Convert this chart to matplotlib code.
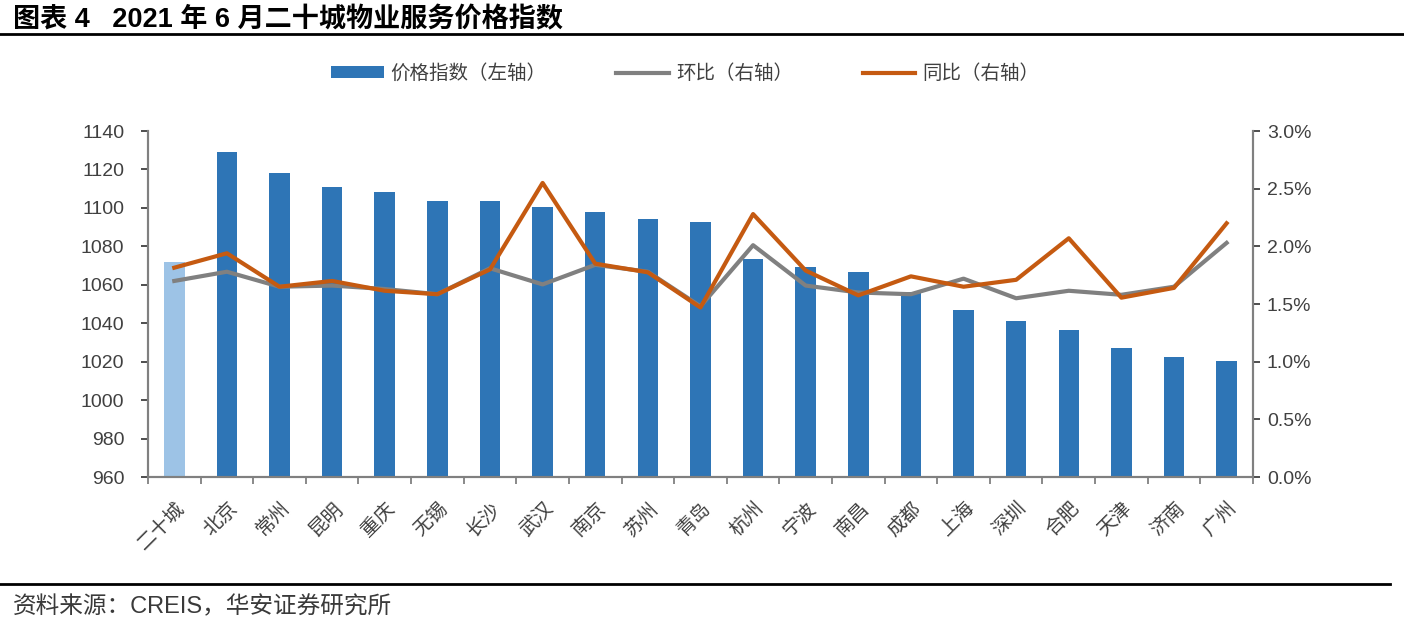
import matplotlib
matplotlib.use("Agg")
import matplotlib.pyplot as plt
from matplotlib.patches import Patch
import numpy as np

plt.rcParams["font.family"] = ["Liberation Sans", "Noto Sans CJK SC", "DejaVu Sans"]

# data
cities = ["二十城", "北京", "常州", "昆明", "重庆", "无锡", "长沙", "武汉", "南京", "苏州",
          "青岛", "杭州", "宁波", "南昌", "成都", "上海", "深圳", "合肥", "天津", "济南", "广州"]
price_index = [1071.9, 1129.0, 1118.3, 1111.0, 1108.3, 1103.6, 1103.6, 1100.5, 1097.9, 1094.2,
               1092.5, 1073.6, 1069.4, 1066.7, 1056.0, 1046.7, 1041.3, 1036.6, 1027.0, 1022.4, 1020.2]
mom = [1.70, 1.78, 1.65, 1.66, 1.63, 1.585, 1.81, 1.67, 1.84, 1.78,
       1.48, 2.01, 1.66, 1.60, 1.585, 1.72, 1.55, 1.615, 1.58, 1.65, 2.03]
yoy = [1.815, 1.94, 1.65, 1.70, 1.615, 1.585, 1.80, 2.55, 1.85, 1.775,
       1.47, 2.28, 1.79, 1.575, 1.74, 1.65, 1.71, 2.07, 1.555, 1.64, 2.20]

blue = "#2E75B6"
light_blue = "#9DC3E6"
gray = "#808080"
orange = "#C55A11"
text_col = "#404040"

fig = plt.figure(figsize=(14.04, 6.23), dpi=100)
ax = fig.add_axes([0.1054, 0.2343, 0.787, 0.5554])
ax2 = ax.twinx()

x = np.arange(len(cities))
colors = [light_blue] + [blue] * (len(cities) - 1)
ax.bar(x, price_index, width=0.39, color=colors, zorder=2)

ax.set_ylim(960, 1140)
ax.set_yticks(np.arange(960, 1141, 20))
ax.set_xlim(-0.5, len(cities) - 0.5)
ax.set_xticks(x)
ax.set_xticklabels(cities, rotation=45, ha="right", rotation_mode="anchor",
                   fontsize=14, color=text_col, family=["Noto Sans CJK SC"])
ax.tick_params(axis="x", which="major", length=0, pad=15)
ax.set_xticks(np.arange(-0.5, len(cities), 1), minor=True)
ax.tick_params(axis="x", which="minor", length=5, color=gray, width=1.3)
ax.tick_params(axis="y", labelsize=14, colors=text_col, length=5, width=1.3, pad=12)
for t in ax.get_yticklines():
    t.set_color(gray)

l1, = ax2.plot(x, mom, color=gray, lw=3, zorder=3)
l2, = ax2.plot(x, yoy, color=orange, lw=3, zorder=4)
ax2.set_ylim(0, 3.0)
ax2.set_yticks(np.arange(0, 3.01, 0.5))
ax2.set_yticklabels([f"{v:.1f}%" for v in np.arange(0, 3.01, 0.5)])
ax2.tick_params(axis="y", labelsize=14, colors=text_col, length=5, width=1.3, pad=5)
for t in ax2.get_yticklines():
    t.set_color(gray)

for a in (ax, ax2):
    a.spines["top"].set_visible(False)
    for s in ("left", "right", "bottom"):
        a.spines[s].set_color(gray)
        a.spines[s].set_linewidth(1.5)

bar_handle = Patch(facecolor=blue, edgecolor="none")
leg = fig.legend([bar_handle, l1, l2], ["价格指数（左轴）", "环比（右轴）", "同比（右轴）"],
                 loc="center", bbox_to_anchor=(0.488, 0.882), ncol=3, frameon=False,
                 handlelength=2.7, handleheight=0.55, handletextpad=0.35, columnspacing=3.6,
                 prop={"family": ["Noto Sans CJK SC"], "size": 14})
for t in leg.get_texts():
    t.set_color(text_col)

# title and rules
fig.text(0.009, 0.988, "图表 4   2021 年 6 月二十城物业服务价格指数", fontsize=19.5,
         fontweight="bold", va="top", ha="left",
         family=["Liberation Sans", "Noto Sans CJK SC"])
fig.add_artist(plt.Line2D([0, 1], [0.946, 0.946], color="black", lw=2))
fig.add_artist(plt.Line2D([0, 0.99], [0.062, 0.062], color="black", lw=2))
fig.text(0.009, 0.026, "资料来源：CREIS，华安证券研究所", fontsize=17, color="#3A3A3A",
         va="center", ha="left", family=["Liberation Sans", "Noto Sans CJK SC"])

fig.savefig("out.png", dpi=100)
